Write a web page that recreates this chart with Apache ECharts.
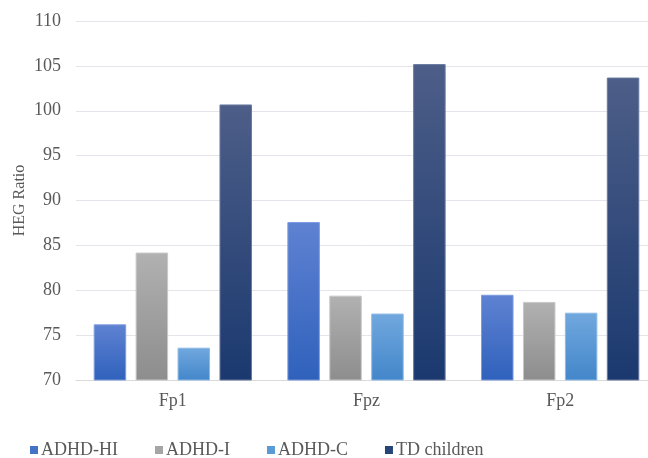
<!DOCTYPE html>
<html>
<head>
<meta charset="utf-8">
<script src="https://cdn.jsdelivr.net/npm/echarts@6/dist/echarts.min.js"></script>
<style>html,body{margin:0;padding:0;background:#fff;overflow:hidden;width:648px;height:458px;}#c{width:662px;height:458px;}</style>
</head>
<body>
<div id="c"></div>
<script>
var categories = ['Fp1', 'Fpz', 'Fp2'];
var seriesNames = ['ADHD-HI', 'ADHD-I', 'ADHD-C', 'TD children'];
var adhdHI = [76.2, 87.6, 79.5];
var adhdI = [84.2, 79.4, 78.7];
var adhdC = [73.6, 77.4, 77.5];
var tdChildren = [100.7, 105.2, 103.7];
var yTicks = [70, 75, 80, 85, 90, 95, 100, 105, 110];

var values = [adhdHI, adhdI, adhdC, tdChildren];
var legendColors = ['#4472c4', '#a5a5a5', '#5b9bd5', '#264478'];
var grads = [
  ['#5f82d2', '#2f61bc'],
  ['#b1b1b1', '#8d8d8d'],
  ['#71a8de', '#4386ca'],
  ['#4d5e88', '#1b396f']
];
var borders = ['#7d9be0', '#c8c8c8', '#8dbbe6', '#6a7aa0'];

var chart = echarts.init(document.getElementById('c'), null, {renderer: 'canvas'});
var font = '"Liberation Serif", "Times New Roman", serif';
chart.setOption({
  animation: false,
  textStyle: {fontFamily: font},
  grid: {left: 76, top: 21, width: 581, height: 359, containLabel: false},
  legend: {
    data: seriesNames.map(function (n, i) {
      return {name: n, itemStyle: {color: legendColors[i], borderWidth: 0}};
    }),
    left: 25, top: 436,
    icon: 'rect', itemWidth: 8, itemHeight: 8, itemGap: 37,
    textStyle: {fontFamily: font, fontSize: 18, color: '#595959', padding: [0, 0, 0, -2]}
  },
  xAxis: {
    type: 'category', data: categories,
    axisLine: {lineStyle: {color: '#d9d9d9', width: 1}},
    axisTick: {show: false},
    axisLabel: {fontFamily: font, fontSize: 18, color: '#595959', margin: 12}
  },
  yAxis: {
    type: 'value', min: yTicks[0], max: yTicks[yTicks.length - 1], interval: 5,
    name: 'HEG Ratio', nameLocation: 'middle', nameGap: 48, nameMoveOverlap: false,
    nameTextStyle: {fontFamily: font, fontSize: 16, color: '#595959'},
    axisLine: {show: false}, axisTick: {show: false},
    axisLabel: {fontFamily: font, fontSize: 18, color: '#595959', margin: 15},
    splitLine: {lineStyle: {color: '#e4e4ea', width: 1}}
  },
  series: seriesNames.map(function (n, i) {
    return {
      name: n, type: 'bar', data: values[i],
      barWidth: 32.5, barGap: '29%',
      itemStyle: {
        color: new echarts.graphic.LinearGradient(0, 0, 0, 1, [
          {offset: 0, color: grads[i][0]}, {offset: 1, color: grads[i][1]}
        ]),
        borderColor: borders[i], borderWidth: 1
      }
    };
  })
});
</script>
</body>
</html>
